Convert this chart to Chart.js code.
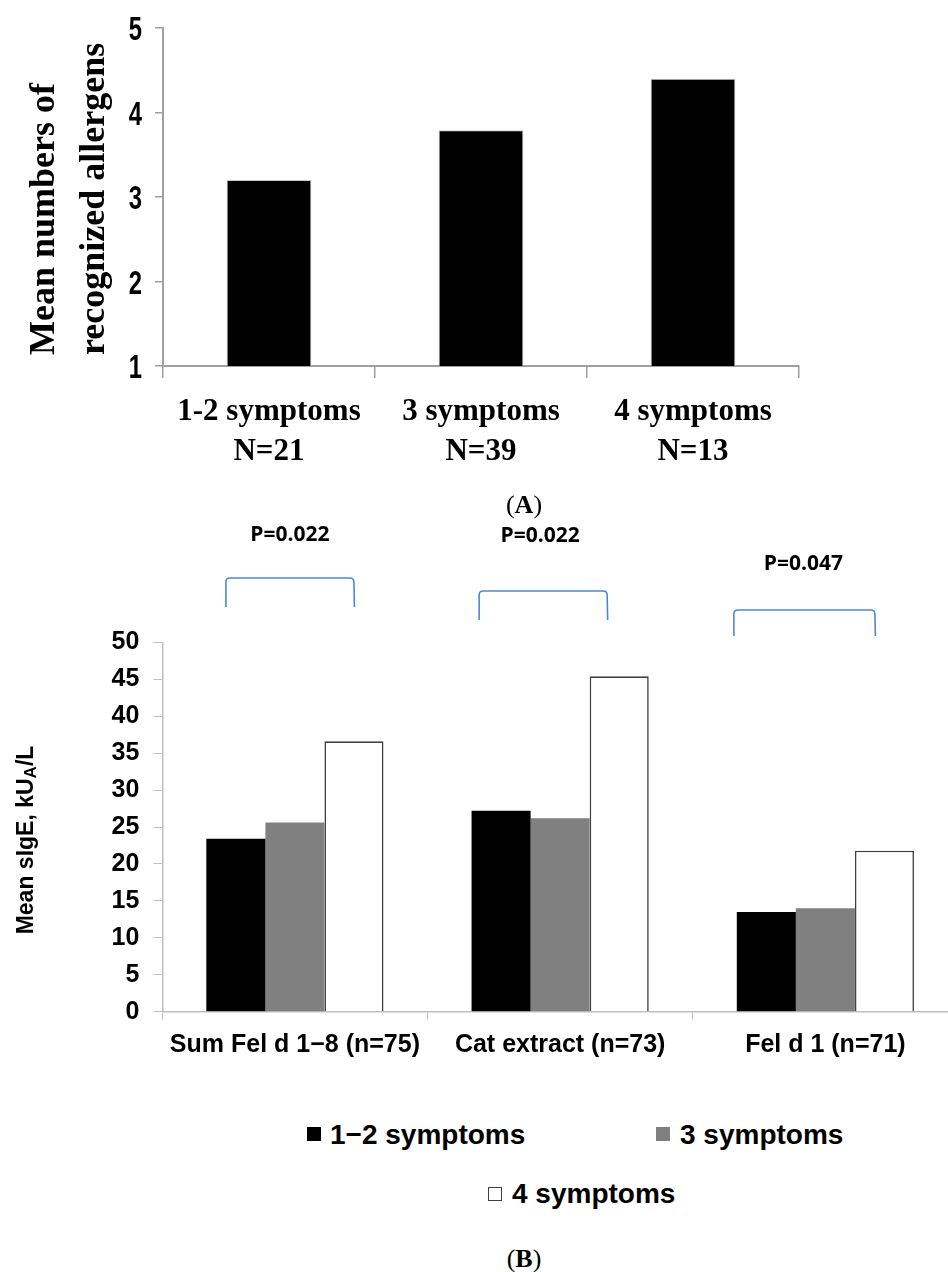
<!DOCTYPE html>
<html>
<head>
<meta charset="utf-8">
<script src="https://cdn.jsdelivr.net/npm/chart.js@4.4.1/dist/chart.umd.min.js"></script>
<style>
html,body{margin:0;padding:0;background:#fff;}
body{width:948px;height:1272px;overflow:hidden;position:relative;}
#wrapA{position:absolute;left:0;top:0;width:948px;height:480px;}
#wrapB{position:absolute;left:0;top:500px;width:970px;height:580px;}
.cap{position:absolute;font-family:'Liberation Serif','Times New Roman',serif;font-size:26px;line-height:26px;color:#000;transform:translateX(-50%);white-space:nowrap;}
.legtxt{position:absolute;font-family:'Liberation Sans',Arial,sans-serif;font-weight:bold;font-size:28px;line-height:28px;color:#000;white-space:nowrap;}
.legbox{position:absolute;box-sizing:border-box;}
</style>
</head>
<body>
<div id="wrapA"><canvas id="cA" width="948" height="480"></canvas></div>
<div id="wrapB"><canvas id="cB" width="970" height="580"></canvas></div>
<div id="extras"></div>
<script>
// ---------- DATA ----------
// Panel A
const categoriesA = [['1-2 symptoms','N=21'],['3 symptoms','N=39'],['4 symptoms','N=13']];
const meanAllergensA = [3.2, 3.79, 4.4];
const yTicksA = [1, 2, 3, 4, 5];
const yTitleA = ['Mean numbers of', 'recognized allergens'];
const captionA = 'A';

// Panel B
const categoriesB = ['Sum Fel d 1\u22128 (n=75)', 'Cat extract (n=73)', 'Fel d 1 (n=71)'];
const seriesNamesB = ['1\u22122 symptoms', '3 symptoms', '4 symptoms'];
const symptoms12 = [23.4, 27.2, 13.5];
const symptoms3  = [25.6, 26.2, 14.0];
const symptoms4  = [36.6, 45.4, 21.8];
const yTicksB = [0, 5, 10, 15, 20, 25, 30, 35, 40, 45, 50];
const yTitleB = ['Mean sIgE, kU', 'A', '/L'];
const pValuesB = ['P=0.022', 'P=0.022', 'P=0.047'];
const captionB = 'B';

// ---------- STYLE / LAYOUT ----------
const TOP_B = 500;
const seriesColorsB = ['#000000', '#808080', '#ffffff'];
const seriesBordersB = ['#000000', '#808080', '#404040'];
const bracketColor = '#4f87d6';
const bracketLayout = [
  {dx: -5,  half: 64,   top: 578, bottom: 607, ldx: -5,  lbase: 541},
  {dx: -17, half: 64,   top: 591, bottom: 620, ldx: -20, lbase: 542},
  {dx: -21, half: 70.5, top: 610, bottom: 636, ldx: -22, lbase: 570}
];
const legendLayout = [
  {box: [307, 1127], text: [330, 1121]},
  {box: [656, 1127], text: [680, 1121]},
  {box: [488, 1187], text: [512, 1180]}
];

// ---------- PLUGINS ----------
const titleAPlugin = {
  id: 'titleA',
  afterDraw(chart) {
    const ctx = chart.ctx;
    ctx.save();
    ctx.fillStyle = '#000';
    // condensed y tick labels drawn from the scale's own ticks
    const ys = chart.scales.y;
    ctx.font = "bold 34px 'Liberation Sans', Arial, sans-serif";
    ctx.textAlign = 'right';
    ctx.textBaseline = 'alphabetic';
    ys.ticks.forEach(t => {
      const py = ys.getPixelForValue(t.value);
      ctx.save();
      ctx.translate(142, py + 12);
      ctx.scale(0.7, 1);
      ctx.fillText(String(t.value), 0, 0);
      ctx.restore();
    });
    // axis title
    ctx.font = "bold 36px 'Liberation Serif', serif";
    ctx.textAlign = 'left';
    const xs = [54, 104];
    yTitleA.forEach((t, i) => {
      ctx.save();
      ctx.translate(xs[i], 355);
      ctx.rotate(-Math.PI / 2);
      ctx.fillText(t, 0, 0);
      ctx.restore();
    });
    ctx.restore();
  }
};

const decoBPlugin = {
  id: 'decoB',
  afterDraw(chart) {
    const ctx = chart.ctx;
    const xs = chart.scales.x;
    ctx.save();
    ctx.strokeStyle = bracketColor;
    ctx.lineWidth = 1.6;
    ctx.lineJoin = 'round';
    bracketLayout.forEach((b, i) => {
      const c = xs.getPixelForValue(i) + b.dx;
      const l = c - b.half, r = c + b.half;
      const t = b.top - TOP_B, bt = b.bottom - TOP_B;
      const rad = 4;
      ctx.beginPath();
      ctx.moveTo(l, bt);
      ctx.lineTo(l, t + rad);
      ctx.quadraticCurveTo(l, t, l + rad, t);
      ctx.lineTo(r - rad, t);
      ctx.quadraticCurveTo(r, t, r, t + rad);
      ctx.lineTo(r + 0.5, bt);
      ctx.stroke();
      ctx.fillStyle = '#000';
      ctx.font = "bold 21px 'Open Sans', 'Liberation Sans', sans-serif";
      ctx.textAlign = 'center';
      ctx.textBaseline = 'alphabetic';
      ctx.fillText(pValuesB[i], xs.getPixelForValue(i) + b.ldx, b.lbase - TOP_B);
    });
    const big = "bold 23px 'Liberation Sans', Arial, sans-serif";
    const small = "bold 17px 'Liberation Sans', Arial, sans-serif";
    ctx.font = big; const w1 = ctx.measureText(yTitleB[0]).width;
    ctx.font = small; const w2 = ctx.measureText(yTitleB[1]).width;
    ctx.font = big; const w3 = ctx.measureText(yTitleB[2]).width;
    const total = w1 + w2 + w3;
    ctx.translate(33, 840 - TOP_B + total / 2);
    ctx.rotate(-Math.PI / 2);
    ctx.fillStyle = '#000';
    ctx.textAlign = 'left';
    ctx.font = big; ctx.fillText(yTitleB[0], 0, 0);
    ctx.font = small; ctx.fillText(yTitleB[1], w1, 3);
    ctx.font = big; ctx.fillText(yTitleB[2], w1 + w2, 0);
    ctx.restore();
  }
};

// ---------- CHART A ----------
new Chart(document.getElementById('cA'), {
  type: 'bar',
  data: {
    labels: categoriesA,
    datasets: [{
      data: meanAllergensA,
      backgroundColor: '#000',
      borderColor: '#c8c8c8',
      borderWidth: 1,
      categoryPercentage: 0.4,
      barPercentage: 1
    }]
  },
  options: {
    responsive: false, animation: false, devicePixelRatio: 1,
    layout: {padding: {left: 0, right: 149, top: 28, bottom: 0}},
    plugins: {legend: {display: false}, tooltip: {enabled: false}},
    scales: {
      x: {
        grid: {offset: true, drawOnChartArea: false, tickLength: 12, color: '#a0a0a0', lineWidth: 1.5},
        border: {color: '#a0a0a0', width: 2},
        ticks: {color: '#000', font: {family: "'Liberation Serif', serif", size: 31, weight: 'bold', lineHeight: 1.3}, padding: 14, maxRotation: 0, autoSkip: false},
        afterFit(s) { s.height = 114; }
      },
      y: {
        min: 1, max: 5,
        afterBuildTicks(s) { s.ticks = yTicksA.map(v => ({value: v})); },
        grid: {drawOnChartArea: false, tickLength: 8, color: '#a0a0a0', lineWidth: 1.5},
        border: {color: '#a0a0a0', width: 2},
        ticks: {display: false},
        afterFit(s) { s.width = 163; }
      }
    }
  },
  plugins: [titleAPlugin]
});

// ---------- CHART B ----------
const seriesB = [symptoms12, symptoms3, symptoms4];
new Chart(document.getElementById('cB'), {
  type: 'bar',
  data: {
    labels: categoriesB,
    datasets: seriesB.map((d, i) => ({
      label: seriesNamesB[i],
      data: d,
      backgroundColor: seriesColorsB[i],
      borderColor: seriesBordersB[i],
      borderWidth: i === 2 ? 1.6 : 0,
      categoryPercentage: 0.668,
      barPercentage: 1
    }))
  },
  options: {
    responsive: false, animation: false, devicePixelRatio: 1,
    layout: {padding: {left: 0, right: 12, top: 142.3, bottom: 0}},
    plugins: {legend: {display: false}, tooltip: {enabled: false}},
    scales: {
      x: {
        grid: {offset: true, drawOnChartArea: false, tickLength: 8, color: '#c0c0c0', lineWidth: 1},
        border: {color: '#c0c0c0', width: 1.5},
        ticks: {color: '#000', font: {family: "'Liberation Sans', Arial, sans-serif", size: 25, weight: 'bold'}, padding: 10, maxRotation: 0, autoSkip: false},
        afterFit(s) { s.height = 68.3; }
      },
      y: {
        min: 0, max: 50,
        afterBuildTicks(s) { s.ticks = yTicksB.map(v => ({value: v})); },
        grid: {drawOnChartArea: false, tickLength: 9, color: '#c0c0c0', lineWidth: 1},
        border: {color: '#c0c0c0', width: 1.5},
        ticks: {color: '#000', font: {family: "'Liberation Sans', Arial, sans-serif", size: 25, weight: 'bold'}, padding: 14},
        afterFit(s) { s.width = 162.3; }
      }
    }
  },
  plugins: [decoBPlugin]
});

// ---------- HTML legend & captions ----------
const extras = document.getElementById('extras');
seriesNamesB.forEach((name, i) => {
  const L = legendLayout[i];
  const box = document.createElement('div');
  box.className = 'legbox';
  box.style.left = L.box[0] + 'px';
  box.style.top = L.box[1] + 'px';
  box.style.width = '14px';
  box.style.height = '14px';
  box.style.background = seriesColorsB[i];
  box.style.border = i === 2 ? '1.3px solid #404040' : 'none';
  extras.appendChild(box);
  const t = document.createElement('div');
  t.className = 'legtxt';
  t.style.left = L.text[0] + 'px';
  t.style.top = L.text[1] + 'px';
  t.textContent = name;
  extras.appendChild(t);
});
[[captionA, 492], [captionB, 1246]].forEach(([c, top]) => {
  const d = document.createElement('div');
  d.className = 'cap';
  d.style.left = '524px';
  d.style.top = top + 'px';
  d.innerHTML = '(<b>' + c + '</b>)';
  extras.appendChild(d);
});
</script>
</body>
</html>
